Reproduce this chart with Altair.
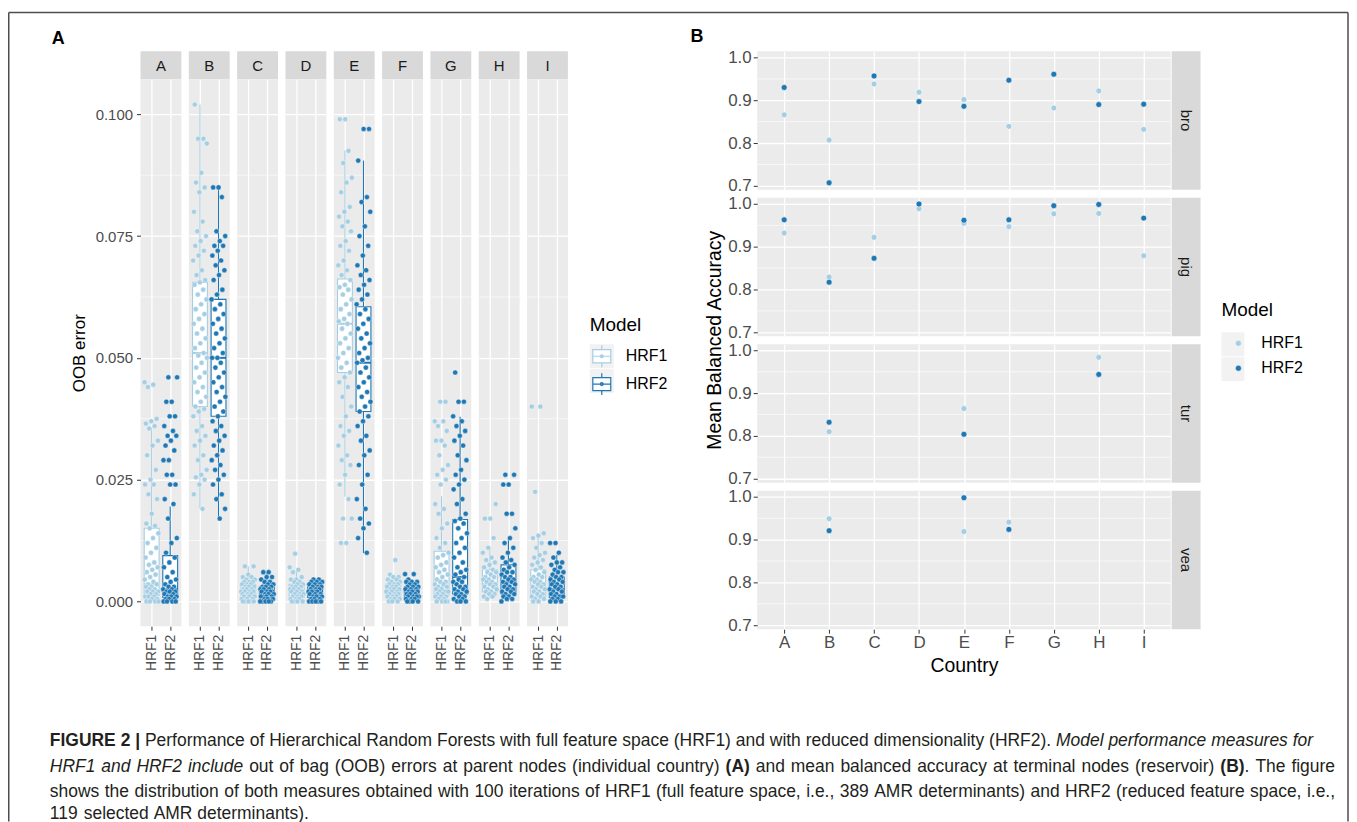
import altair as alt
import pandas as pd

FONT = "Liberation Sans, Arial, Helvetica, sans-serif"
COUNTRIES = ["A", "B", "C", "D", "E", "F", "G", "H", "I"]
MODELS = ["HRF1", "HRF2"]
COLORS = ["#A6CEE3", "#1F78B4"]
RESERVOIRS = ["bro", "pig", "tur", "vea"]

# ---------------- Panel A: OOB error (values x 1000)
OOB_A_HRF1 = [45, 44.5, 44, 37.5, 37, 36.5, 36, 35.5, 33, 32, 30, 27, 25, 24, 24, 22, 21, 18, 16, 15.5, 15, 14, 13, 12, 11, 10, 9, 8, 7.5, 7, 6.5, 6, 5.5, 5, 4.5, 4, 3.5, 3.5, 3, 3, 2.5, 2.5, 2, 2, 2, 1.5, 1.5, 1, 1, 1, 0.5, 0.5, 0, 0, 0, 0]
OOB_A_HRF2 = [46, 46, 41, 41, 38, 38, 36, 35, 34, 34, 33, 32, 31, 29, 29, 26, 26, 24, 24, 21, 20, 17, 13, 12, 10, 9, 8, 7, 6, 5, 4.5, 4, 3.5, 3, 3, 2.5, 2.5, 2, 2, 2, 1.5, 1.5, 1, 1, 1, 0.5, 0.5, 0.5, 0, 0, 0, 0]
OOB_B_HRF1 = [102, 95, 95, 94, 88, 86, 85, 84, 80, 78, 76, 75, 74, 73, 72, 71, 70, 68, 67, 66, 65.5, 65, 64, 63, 62, 61, 60, 59, 58, 57, 56, 55, 54, 53, 52, 51, 50.5, 50, 49, 48, 47, 46, 45, 44, 43, 42, 41, 40, 39.5, 39, 38, 36, 35, 34, 33, 32, 30, 29, 27, 26, 25.5, 25, 24, 22, 19]
OOB_B_HRF2 = [85, 85, 83, 76, 75, 74, 73, 73, 72, 71, 70, 69, 68, 67, 66, 64, 63, 62, 61, 60, 59, 58, 57, 56, 55, 54, 53, 52, 51, 50, 50, 49, 48, 47, 46, 45, 44, 43, 42, 41, 40, 39, 38, 37, 36, 35, 34, 33, 32, 31, 30, 29, 28, 27, 26, 25, 24, 22, 21, 19, 17]
OOB_C_HRF1 = [7.2, 7.2, 5.5, 5, 5, 4.5, 4.5, 4, 4, 4, 3.5, 3.5, 3.5, 3, 3, 3, 2.5, 2.5, 2.5, 2, 2, 2, 2, 1.5, 1.5, 1.5, 1, 1, 1, 1, 0.5, 0.5, 0.5, 0, 0, 0, 0, 0]
OOB_C_HRF2 = [6, 6, 5, 5, 4.5, 4, 4, 3.5, 3.5, 3, 3, 3, 2.5, 2.5, 2.5, 2, 2, 2, 2, 1.5, 1.5, 1.5, 1, 1, 1, 1, 0.5, 0.5, 0.5, 0.5, 0, 0, 0, 0, 0]
OOB_D_HRF1 = [9.8, 7, 6.5, 6, 5, 4.5, 4.5, 4, 4, 3.5, 3.5, 3, 3, 3, 2.5, 2.5, 2.5, 2, 2, 2, 1.5, 1.5, 1.5, 1, 1, 1, 0.5, 0.5, 0.5, 0, 0, 0, 0]
OOB_D_HRF2 = [4.5, 4.5, 4, 4, 4, 3.5, 3.5, 3.5, 3, 3, 3, 2.5, 2.5, 2.5, 2, 2, 2, 2, 1.5, 1.5, 1.5, 1, 1, 1, 1, 0.5, 0.5, 0.5, 0, 0, 0, 0, 0]
OOB_E_HRF1 = [99, 99, 92.5, 90, 87, 86, 84, 81, 80, 79, 78, 77, 76, 74, 73, 72, 70, 69, 68, 67, 66, 65, 64.5, 64, 63, 62, 61, 60, 59, 58, 57.5, 57, 56, 55, 54, 53, 52, 51, 50, 49, 48, 47, 46, 45, 44, 42, 40, 38, 36, 35, 34, 32, 30, 29, 28, 26, 24, 21, 17, 17, 12, 12]
OOB_E_HRF2 = [97, 97, 90.5, 83, 82, 80, 77, 75, 73, 71, 69, 68, 67, 66, 65, 64, 63, 62, 61, 60, 59, 58, 57, 56, 55, 54, 53, 52, 51, 50, 49.5, 49, 48, 47, 46, 45, 44, 43, 42, 41, 40, 39, 38, 37, 36, 34, 33, 31, 30, 28, 26, 24, 21, 19, 17, 16, 15, 13, 10]
OOB_F_HRF1 = [8.5, 5.5, 5, 5, 4.5, 4.5, 4, 4, 3.5, 3.5, 3.5, 3, 3, 3, 2.5, 2.5, 2.5, 2, 2, 2, 2, 1.5, 1.5, 1.5, 1, 1, 1, 0.5, 0.5, 0.5, 0, 0, 0]
OOB_F_HRF2 = [5.6, 5.6, 4.5, 4, 4, 4, 3.5, 3.5, 3, 3, 3, 2.5, 2.5, 2.5, 2, 2, 2, 2, 1.5, 1.5, 1.5, 1, 1, 1, 1, 0.5, 0.5, 0.5, 0, 0, 0, 0]
OOB_G_HRF1 = [41, 41, 37, 37, 36, 35, 33, 33, 32, 30, 28, 27, 26, 25, 24, 20, 19, 18, 16, 15, 13, 12, 11, 10, 9.5, 9, 8, 7.5, 7, 6.5, 6, 5.5, 5, 4.5, 4, 4, 3.5, 3.5, 3, 3, 2.5, 2.5, 2, 2, 2, 1.5, 1.5, 1, 1, 1, 0.5, 0.5, 0, 0, 0, 0]
OOB_G_HRF2 = [47, 41, 41, 38, 37, 36, 35, 34, 33, 32, 30, 29, 27, 26, 25, 24, 23, 21, 20, 18, 17, 16.5, 16, 15, 14, 13, 12, 11, 10, 9, 8, 7, 6.5, 6, 5.5, 5, 4.5, 4, 4, 3.5, 3, 3, 2.5, 2.5, 2, 2, 1.5, 1.5, 1, 1, 0.5, 0.5, 0, 0, 0]
OOB_H_HRF1 = [20, 17, 17, 13, 11, 10, 9, 8.5, 8, 7.5, 7, 6.5, 6, 6, 5.5, 5, 5, 4.5, 4.5, 4, 4, 3.5, 3.5, 3, 3, 2.5, 2.5, 2, 2, 1.5, 1.5, 1, 1, 0.5]
OOB_H_HRF2 = [26, 26, 24, 24, 18, 18, 15, 13, 12, 11, 10, 9, 8.5, 8, 7.5, 7, 6.5, 6, 6, 5.5, 5, 5, 4.5, 4.5, 4, 4, 3.5, 3.5, 3, 3, 2.5, 2.5, 2, 2, 1.5, 1.5, 1, 1, 0.5, 0.5, 0]
OOB_I_HRF1 = [40, 40, 22.5, 14, 13.5, 13, 12, 11, 10, 9.5, 9, 8.5, 8, 7.5, 7, 6.5, 6, 5.5, 5, 5, 4.5, 4.5, 4, 4, 3.5, 3.5, 3, 3, 2.5, 2.5, 2, 2, 1.5, 1.5, 1, 1, 0.5, 0.5, 0, 0]
OOB_I_HRF2 = [12, 12, 10, 9, 8, 8, 7.5, 7, 6.5, 6, 6, 5.5, 5, 5, 4.5, 4.5, 4, 4, 3.5, 3.5, 3, 3, 2.5, 2.5, 2, 2, 1.5, 1.5, 1, 1, 1, 0.5, 0.5, 0, 0, 0]

# box statistics per country (x 1000): lower whisker, Q1, median, Q3, upper whisker
LO_HRF1 = [0, 19, 0, 0, 21.5, 0, 0, 0.5, 0]
Q1_HRF1 = [1.2, 40, 0.8, 0.8, 47, 1.0, 1.2, 2.0, 1.0]
MED_HRF1 = [3.5, 51, 2.0, 2.0, 57, 2.0, 3.0, 3.5, 3.0]
Q3_HRF1 = [15, 65.5, 3.5, 3.5, 66.2, 3.5, 10.3, 6.5, 6.5]
HI_HRF1 = [35.7, 102, 7.2, 6.5, 92.6, 5.5, 21.6, 11, 13.5]
LO_HRF2 = [0, 16.5, 0, 0, 9.9, 0, 0, 0, 0]
Q1_HRF2 = [0.8, 38, 0.5, 0.8, 39, 0.8, 1.5, 1.5, 0.8]
MED_HRF2 = [2.5, 50, 1.5, 2.0, 49, 1.8, 5.0, 4.0, 2.5]
Q3_HRF2 = [9.4, 62, 3.0, 3.0, 60.5, 3.0, 16.8, 7.5, 5.0]
HI_HRF2 = [19.5, 85, 6.0, 4.5, 90.5, 4.5, 37.9, 13, 9.5]

OOB_TICKS = [0, 0.025, 0.05, 0.075, 0.1]
OOB_MINOR = [0.0125, 0.0375, 0.0625, 0.0875]

# ---------------- Panel B: mean balanced accuracy per reservoir, countries A..I
MBA_BRO_HRF1 = [0.866, 0.807, 0.938, 0.919, 0.902, 0.839, 0.882, 0.922, 0.832]
MBA_BRO_HRF2 = [0.930, 0.707, 0.957, 0.897, 0.886, 0.947, 0.961, 0.890, 0.891]
MBA_PIG_HRF1 = [0.932, 0.829, 0.922, 0.989, 0.955, 0.947, 0.977, 0.978, 0.879]
MBA_PIG_HRF2 = [0.963, 0.817, 0.873, 1.000, 0.962, 0.963, 0.996, 0.999, 0.967]
MBA_TUR_HRF1 = [None, 0.810, None, None, 0.864, None, None, 0.984, None]
MBA_TUR_HRF2 = [None, 0.832, None, None, 0.804, None, None, 0.944, None]
MBA_VEA_HRF1 = [None, 0.949, None, None, 0.919, 0.941, None, None, None]
MBA_VEA_HRF2 = [None, 0.921, None, None, 0.998, 0.924, None, None, None]
MBA_TICKS = [0.7, 0.8, 0.9, 1.0]
MBA_MINOR = [0.75, 0.85, 0.95]

CAPTION = [
    [("FIGURE 2 |", "bold"),
     (" Performance of Hierarchical Random Forests with full feature space (HRF1) and with reduced dimensionality (HRF2).", "normal"),
     (" Model performance measures for", "italic")],
    [("HRF1 and HRF2 include", "italic"),
     (" out of bag (OOB) errors at parent nodes (individual country)", "normal"),
     (" (A)", "bold"),
     (" and mean balanced accuracy at terminal nodes (reservoir)", "normal"),
     (" (B)", "bold"),
     (". The figure", "normal")],
    [("shows the distribution of both measures obtained with 100 iterations of HRF1 (full feature space, i.e., 389 AMR determinants) and HRF2 (reduced feature space, i.e.,", "normal")],
    [("119 selected AMR determinants).", "normal")],
]

# ---------------- layout constants (page pixels)
ORIGIN_X, ORIGIN_Y = 141, 50          # top-left of the first strip of panel A
CAP_OX, CAP_OY = 141, 700              # origin of the caption / decoration view
PW_A, STRIP_H_A, PH_A, GAP_A = 41, 28, 549, 5.5
PW_B, PH_B, STRIP_W_B = 415, 139, 29
ROW_SPACING_B = 1
TOP_SPACING = 159
CAP_SPACING = -666

GRID = "white"
TICKC = "#333333"
LABC = "#4D4D4D"
KEYBG = "#F2F2F2"

OOB = {
    "A": (OOB_A_HRF1, OOB_A_HRF2), "B": (OOB_B_HRF1, OOB_B_HRF2), "C": (OOB_C_HRF1, OOB_C_HRF2),
    "D": (OOB_D_HRF1, OOB_D_HRF2), "E": (OOB_E_HRF1, OOB_E_HRF2), "F": (OOB_F_HRF1, OOB_F_HRF2),
    "G": (OOB_G_HRF1, OOB_G_HRF2), "H": (OOB_H_HRF1, OOB_H_HRF2), "I": (OOB_I_HRF1, OOB_I_HRF2),
}
BOX = {
    "HRF1": (LO_HRF1, Q1_HRF1, MED_HRF1, Q3_HRF1, HI_HRF1),
    "HRF2": (LO_HRF2, Q1_HRF2, MED_HRF2, Q3_HRF2, HI_HRF2),
}
MBA = {
    "bro": (MBA_BRO_HRF1, MBA_BRO_HRF2), "pig": (MBA_PIG_HRF1, MBA_PIG_HRF2),
    "tur": (MBA_TUR_HRF1, MBA_TUR_HRF2), "vea": (MBA_VEA_HRF1, MBA_VEA_HRF2),
}

cscale = alt.Scale(domain=MODELS, range=COLORS)
NOLEG_C = dict(scale=cscale, legend=None)

BOX_GLYPH = ("M-0.82,-0.6H0.82V0.6H-0.82Z M-0.82,0H0.82 M0,-1V-0.6 M0,0.6V1 "
             "M-0.13,0A0.13,0.13 0 1,0 0.13,0A0.13,0.13 0 1,0 -0.13,0Z")

legend_a = alt.Legend(
    title="Model", orient="none", legendX=592 - CAP_OX, legendY=315 - CAP_OY,
    titleFontSize=19, titleFontWeight="normal", titleColor="black", titlePadding=9,
    labelFontSize=16, labelColor="black", labelOffset=12,
    symbolType=BOX_GLYPH, symbolSize=484, symbolStrokeWidth=1.2, rowPadding=0, padding=0,
)
legend_b = alt.Legend(
    title="Model", orient="none", legendX=1226 - CAP_OX, legendY=300 - CAP_OY,
    titleFontSize=19, titleFontWeight="normal", titleColor="black", titlePadding=15,
    labelFontSize=16, labelColor="black", labelOffset=15,
    symbolType="circle", symbolSize=36, symbolStrokeWidth=0.5, symbolOffset=9,
    rowPadding=9, padding=0,
)


def jitter(n, shift):
    return [((i * 0.6180339887 + shift) % 1.0 - 0.5) * 0.76 for i in range(n)]


def panel_a(k, c):
    first = k == 0
    rows = []
    for m, model in enumerate(MODELS):
        vals = OOB[c][m]
        js = jitter(len(vals), 0.13 * k + 0.37 * m)
        for v, j in zip(vals, js):
            rows.append({"Model": model, "xj": m + 1 + j, "v": v / 1000.0})
    pts = pd.DataFrame(rows)
    brows = []
    for m, model in enumerate(MODELS):
        lo, q1, med, q3, hi = (s[k] / 1000.0 for s in BOX[model])
        brows.append({"Model": model, "idx": m + 1, "xl": m + 1 - 0.4, "xr": m + 1 + 0.4,
                      "lo": lo, "q1": q1, "med": med, "q3": q3, "hi": hi})
    box = pd.DataFrame(brows)
    minor = pd.DataFrame({"g": OOB_MINOR})

    xs = alt.Scale(domain=[0.4, 2.6], nice=False, zero=False)
    ys = alt.Scale(domain=[-0.0051, 0.1072], nice=False, zero=False)
    xaxis = alt.Axis(values=[1, 2], labelExpr=f"datum.value == 1 ? '{MODELS[0]}' : '{MODELS[1]}'",
                     labelAngle=270, labelAlign="right", labelBaseline="middle",
                     labelFontSize=14, labelColor=LABC, labelPadding=4, tickColor=TICKC, tickSize=4,
                     domain=False, grid=True, gridColor=GRID, gridWidth=1.3, title=None)
    if first:
        yaxis = alt.Axis(values=OOB_TICKS, format=".3f", labelFontSize=15, labelColor=LABC,
                         labelPadding=4, tickColor=TICKC, tickSize=4, domain=False, grid=True,
                         gridColor=GRID, gridWidth=1.3, title="OOB error", titleFontSize=17,
                         titleFontWeight="normal", titleColor="black", titlePadding=7)
    else:
        yaxis = alt.Axis(values=OOB_TICKS, labels=False, ticks=False, domain=False, grid=True,
                         gridColor=GRID, gridWidth=1.3, title=None)

    col = alt.Color("Model:N", **NOLEG_C)
    g = alt.Chart(minor).mark_rule(color=GRID, strokeWidth=0.6).encode(
        y=alt.Y("g:Q", scale=ys, axis=yaxis))
    wl = alt.Chart(box).mark_rule(strokeWidth=1.1).encode(
        x=alt.X("idx:Q", scale=xs, axis=xaxis), y=alt.Y("lo:Q", scale=ys, axis=yaxis), y2="q1:Q", color=col)
    wh = alt.Chart(box).mark_rule(strokeWidth=1.1).encode(
        x=alt.X("idx:Q", scale=xs, axis=xaxis), y=alt.Y("q3:Q", scale=ys, axis=yaxis), y2="hi:Q", color=col)
    rect = alt.Chart(box).mark_rect(filled=False, fill="white", strokeWidth=1.1).encode(
        x=alt.X("xl:Q", scale=xs, axis=xaxis), x2="xr:Q",
        y=alt.Y("q1:Q", scale=ys, axis=yaxis), y2="q3:Q", color=col)
    med = alt.Chart(box).mark_rule(strokeWidth=2).encode(
        x=alt.X("xl:Q", scale=xs, axis=xaxis), x2="xr:Q", y=alt.Y("med:Q", scale=ys, axis=yaxis), color=col)
    dots = alt.Chart(pts).mark_circle(size=26, opacity=1, stroke="white", strokeWidth=0.4).encode(
        x=alt.X("xj:Q", scale=xs, axis=xaxis), y=alt.Y("v:Q", scale=ys, axis=yaxis), color=col)
    plot = alt.layer(g, wl, wh, rect, med, dots).properties(
        width=PW_A, height=PH_A, view=alt.ViewBackground(fill="#EBEBEB"))

    strip = alt.Chart(pd.DataFrame({"Country": [c]})).mark_text(
        fontSize=15, color="#1A1A1A", font=FONT).encode(
        text="Country:N", x=alt.value(PW_A / 2), y=alt.value(STRIP_H_A / 2 + 1)).properties(
        width=PW_A, height=STRIP_H_A, view=alt.ViewBackground(fill="#D9D9D9"))
    return alt.vconcat(strip, plot, spacing=0)


def panel_b(j, r):
    last = j == len(RESERVOIRS) - 1
    rows = []
    for m, model in enumerate(MODELS):
        for c, v in zip(COUNTRIES, MBA[r][m]):
            if v is not None:
                rows.append({"Country": c, "Model": model, "v": v})
    df = pd.DataFrame(rows)
    xs = alt.Scale(type="point", domain=COUNTRIES, padding=0.6)
    ys = alt.Scale(domain=[0.6905, 1.0145], nice=False, zero=False)
    if last:
        xaxis = alt.Axis(labelAngle=0, labelFontSize=17, labelColor=LABC, labelPadding=1,
                         tickColor=TICKC, tickSize=4, domain=False, grid=True, gridColor=GRID,
                         gridWidth=1.3, title="Country", titleFontSize=19.5, titleFontWeight="normal",
                         titleColor="black", titlePadding=6)
    else:
        xaxis = alt.Axis(labels=False, ticks=False, domain=False, grid=True, gridColor=GRID,
                         gridWidth=1.3, title=None)
    yaxis = alt.Axis(values=MBA_TICKS, format=".1f", labelFontSize=17, labelColor=LABC, labelPadding=2,
                     tickColor=TICKC, tickSize=4, domain=False, grid=True, gridColor=GRID,
                     gridWidth=1.3, title=None)

    g = alt.Chart(pd.DataFrame({"g": MBA_MINOR})).mark_rule(color=GRID, strokeWidth=0.6).encode(
        y=alt.Y("g:Q", scale=ys, axis=yaxis))
    dots = alt.Chart(df).mark_circle(size=36, opacity=1, stroke="white", strokeWidth=0.6).encode(
        x=alt.X("Country:N", scale=xs, axis=xaxis, sort=COUNTRIES),
        y=alt.Y("v:Q", scale=ys, axis=yaxis),
        fill=alt.Fill("Model:N", scale=cscale, legend=None),
        order=alt.Order("Model:N"))
    plot = alt.layer(g, dots).properties(width=PW_B, height=PH_B, view=alt.ViewBackground(fill="#EBEBEB"))
    strip = alt.Chart(pd.DataFrame({"res": [r]})).mark_text(
        angle=90, fontSize=15, color="#1A1A1A", font=FONT).encode(
        text="res:N", x=alt.value(STRIP_W_B / 2), y=alt.value(PH_B / 2)).properties(
        width=STRIP_W_B, height=PH_B, view=alt.ViewBackground(fill="#D9D9D9"))
    return alt.hconcat(plot, strip, spacing=0)


# ---------------- caption text layout (Arial / Liberation Sans advance widths)
REG_W = {" ": 278, ".": 278, ",": 278, "(": 333, ")": 333, "|": 260, "-": 333}
for ch in "0123456789":
    REG_W[ch] = 556
REG_W.update(dict(zip("abcdefghijklmnopqrstuvwxyz",
                      [556, 556, 500, 556, 556, 278, 556, 556, 222, 222, 500, 222, 833, 556, 556, 556,
                       556, 333, 500, 278, 556, 500, 722, 500, 500, 500])))
REG_W.update(dict(zip("ABCDEFGHIJKLMNOPQRSTUVWXYZ",
                      [667, 667, 722, 722, 667, 611, 778, 722, 278, 500, 667, 556, 833, 722, 778, 667,
                       778, 722, 667, 611, 722, 667, 944, 667, 667, 611])))
BOLD_W = {" ": 278, "(": 333, ")": 333, "|": 280, "2": 556, "A": 722, "B": 722, "E": 667, "F": 611,
          "G": 778, "I": 278, "R": 722, "U": 722}


def em(s, style):
    t = BOLD_W if style == "bold" else REG_W
    return sum(t.get(ch, 556) for ch in s) / 1000.0


def tokens(line):
    out = []
    for seg, st in line:
        for i, p in enumerate(seg.split(" ")):
            if p:
                out.append((p, st, i > 0))
    return out


CAP_X0, CAP_X1, LINE1_END = 50, 1340, 1318
CAP_Y = [741, 767, 792, 815]
tok_lines = [tokens(l) for l in CAPTION]


def natural_em(toks):
    total = 0.0
    for n, (w, st, sb) in enumerate(toks):
        if n > 0 and sb:
            total += REG_W[" "] / 1000.0
        total += em(w, st)
    return total


FS = (LINE1_END - CAP_X0) / natural_em(tok_lines[0])
words = []
for li, toks in enumerate(tok_lines):
    gaps = sum(1 for n, t in enumerate(toks) if n > 0 and t[2])
    extra = 0.0
    if li in (1, 2) and gaps:
        extra = (CAP_X1 - CAP_X0 - natural_em(toks) * FS) / gaps
    x = CAP_X0
    for n, (w, st, sb) in enumerate(toks):
        if n > 0 and sb:
            x += REG_W[" "] / 1000.0 * FS + extra
        words.append({"word": w, "style": st, "px": x - CAP_OX, "py": CAP_Y[li] - CAP_OY})
        x += em(w, st) * FS
wdf = pd.DataFrame(words)


def cap_layer(style, **kw):
    return alt.Chart(wdf).transform_filter(alt.datum.style == style).mark_text(
        align="left", baseline="middle", fontSize=FS, color="#231F20", font=FONT, **kw).encode(
        x=alt.X("px:Q", scale=None, axis=None), y=alt.Y("py:Q", scale=None, axis=None), text="word:N")


one = pd.DataFrame({"a": [0]})
FR = dict(color="#4D4D4D", strokeWidth=1.5)
L, R, T, B = 8.75 - CAP_OX, 1353 - CAP_OX, 10 - CAP_OY, 822 - CAP_OY
frame = [
    alt.Chart(one).mark_rule(**FR).encode(x=alt.value(L), x2=alt.value(R), y=alt.value(T)),
    alt.Chart(one).mark_rule(**FR).encode(x=alt.value(L), y=alt.value(T), y2=alt.value(B)),
    alt.Chart(one).mark_rule(**FR).encode(x=alt.value(R), y=alt.value(T), y2=alt.value(B)),
]
tags = alt.Chart(pd.DataFrame({"lab": ["A", "B"], "px": [52 - CAP_OX, 693 - CAP_OX],
                               "py": [37 - CAP_OY, 35 - CAP_OY]})).mark_text(
    fontSize=18, fontWeight="bold", color="black", align="left", baseline="middle", font=FONT).encode(
    x=alt.X("px:Q", scale=None, axis=None), y=alt.Y("py:Q", scale=None, axis=None), text="lab:N")
ytitle_b = alt.Chart(pd.DataFrame({"t": ["Mean Balanced Accuracy"], "px": [718 - CAP_OX],
                                   "py": [339 - CAP_OY]})).mark_text(
    angle=270, fontSize=19.5, color="black", align="center", baseline="middle", font=FONT).encode(
    x=alt.X("px:Q", scale=None, axis=None), y=alt.Y("py:Q", scale=None, axis=None), text="t:N")

# legend key backgrounds (ggplot grey95 key squares)
keybg = alt.Chart(pd.DataFrame({
    "x1": [592 - CAP_OX, 592 - CAP_OX, 1226 - CAP_OX, 1226 - CAP_OX],
    "x2": [616 - CAP_OX, 616 - CAP_OX, 1249 - CAP_OX, 1249 - CAP_OX],
    "y1": [343 - CAP_OY, 368 - CAP_OY, 331 - CAP_OY, 356 - CAP_OY],
    "y2": [367 - CAP_OY, 392 - CAP_OY, 355 - CAP_OY, 380 - CAP_OY],
})).mark_rect(color=KEYBG).encode(
    x=alt.X("x1:Q", scale=None, axis=None), x2="x2:Q",
    y=alt.Y("y1:Q", scale=None, axis=None), y2="y2:Q")

# legend owners (no marks drawn; legends come from the explicit scale domain)
mdf = pd.DataFrame({"Model": MODELS})
leg_a = alt.Chart(mdf).transform_filter("false").mark_rect(
    filled=False, fill="white", strokeWidth=1.2).encode(
    x=alt.value(0), x2=alt.value(1), y=alt.value(0), y2=alt.value(1),
    color=alt.Color("Model:N", scale=cscale, legend=legend_a))
leg_b = alt.Chart(mdf).transform_filter("false").mark_circle(
    size=36, opacity=1, stroke="white", strokeWidth=0.5).encode(
    x=alt.value(0), y=alt.value(0),
    fill=alt.Fill("Model:N", scale=cscale, legend=legend_b))

caption = alt.layer(*frame, keybg, tags, ytitle_b, cap_layer("normal"),
                    cap_layer("italic", fontStyle="italic"), cap_layer("bold", fontWeight="bold"),
                    leg_a, leg_b).resolve_legend(color="independent", fill="independent").properties(
    width=1000, height=100)

block_a = alt.hconcat(*[panel_a(k, c) for k, c in enumerate(COUNTRIES)], spacing=GAP_A)
block_b = alt.vconcat(*[panel_b(j, r) for j, r in enumerate(RESERVOIRS)], spacing=ROW_SPACING_B)
top = alt.hconcat(block_a, block_b, spacing=TOP_SPACING)

chart = alt.vconcat(top, caption, spacing=CAP_SPACING).resolve_legend(
    color="independent", fill="independent").properties(
    padding={"left": 0, "top": 2, "right": 0, "bottom": 0}
).configure(font=FONT).configure_view(strokeWidth=0)

chart.save("out.html", embed_options={"renderer": "svg", "actions": False})
